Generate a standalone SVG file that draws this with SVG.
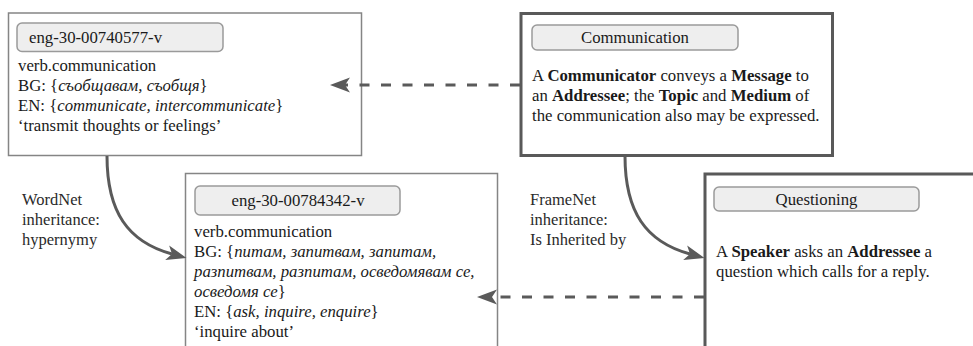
<svg xmlns="http://www.w3.org/2000/svg" width="973" height="346" viewBox="0 0 973 346">
<style>
text { font-family: "Liberation Serif", "Times New Roman", serif; font-size: 16.75px; fill: #1a1a1a; }
.lbl { font-size: 16.5px; fill: #2a2a2a; }
.c { text-anchor: middle; }
.wn { fill: #fff; stroke: #858585; stroke-width: 1.5; }
.fn { fill: #fff; stroke: #595959; stroke-width: 3; }
.pill { fill: #eeeeee; stroke: #9a9a9a; stroke-width: 1.5; }
.i { font-style: italic; }
.b { font-weight: bold; }
.conn { fill: none; stroke: #5a5a5a; stroke-width: 3; }
.dash { stroke-dasharray: 10 11.5; }
</style>
<defs>
<marker id="ah" markerUnits="userSpaceOnUse" viewBox="0 -8 20 16" refX="5" refY="0" markerWidth="20" markerHeight="16" orient="auto">
<path d="M0,-7.5 L20,0 L0,7.5 L5,0 Z" fill="#5a5a5a"/>
</marker>
</defs>

<g id="wn-00740577">
<rect class="wn" x="8.5" y="13" width="353" height="142.5"/>
<rect class="pill" x="17" y="23" width="206" height="28.5" rx="5"/>
<text x="29" y="43">eng-30-00740577-v</text>
<text x="18" y="71">verb.communication</text>
<text x="18" y="91">BG: {<tspan class="i">съобщавам, съобщя</tspan>}</text>
<text x="18" y="111">EN: {<tspan class="i">communicate, intercommunicate</tspan>}</text>
<text x="18" y="131">‘transmit thoughts or feelings’</text>
</g>

<g id="wn-00784342">
<rect class="wn" x="185.5" y="173.5" width="312" height="200"/>
<rect class="pill" x="195" y="186" width="205" height="29" rx="5"/>
<text class="c" x="298" y="206">eng-30-00784342-v</text>
<text x="194" y="237">verb.communication</text>
<text x="194" y="257">BG: {<tspan class="i">питам, запитвам, запитам,</tspan></text>
<text x="194" y="277" class="i">разпитвам, разпитам, осведомявам се,</text>
<text x="194" y="297"><tspan class="i">осведомя се</tspan>}</text>
<text x="194" y="317">EN: {<tspan class="i">ask, inquire, enquire</tspan>}</text>
<text x="194" y="337">‘inquire about’</text>
</g>

<g id="fn-communication">
<rect class="fn" x="521" y="13.5" width="311.5" height="142"/>
<rect class="pill" x="532" y="25" width="206" height="25" rx="5"/>
<text class="c" x="635" y="43">Communication</text>
<text x="532" y="81">A <tspan class="b">Communicator</tspan> conveys a <tspan class="b">Message</tspan> to</text>
<text x="532" y="101">an <tspan class="b">Addressee</tspan>; the <tspan class="b">Topic</tspan> and <tspan class="b">Medium</tspan> of</text>
<text x="532" y="121">the communication also may be expressed.</text>
</g>

<g id="fn-questioning">
<rect class="fn" x="705" y="174" width="300" height="200"/>
<rect class="pill" x="714" y="187" width="205" height="24" rx="5"/>
<text class="c" x="816.5" y="205">Questioning</text>
<text x="716" y="257">A <tspan class="b">Speaker</tspan> asks an <tspan class="b">Addressee</tspan> a</text>
<text x="716" y="277">question which calls for a reply.</text>
</g>

<g id="labels">
<text class="lbl" x="22" y="205">WordNet</text>
<text class="lbl" x="22" y="225">inheritance:</text>
<text class="lbl" x="22" y="245">hypernymy</text>
<text class="lbl" x="530" y="205">FrameNet</text>
<text class="lbl" x="530" y="225">inheritance:</text>
<text class="lbl" x="530" y="245">Is Inherited by</text>
</g>

<g id="connectors">
<path class="conn dash" d="M520,85 L345,85" marker-end="url(#ah)"/>
<path class="conn dash" d="M704,297 L492,297" marker-end="url(#ah)"/>
<path class="conn" d="M107,156 C107,212 128,242 172,254" marker-end="url(#ah)"/>
<path class="conn" d="M625,156 C625,212 646,242 690,254" marker-end="url(#ah)"/>
</g>
</svg>
